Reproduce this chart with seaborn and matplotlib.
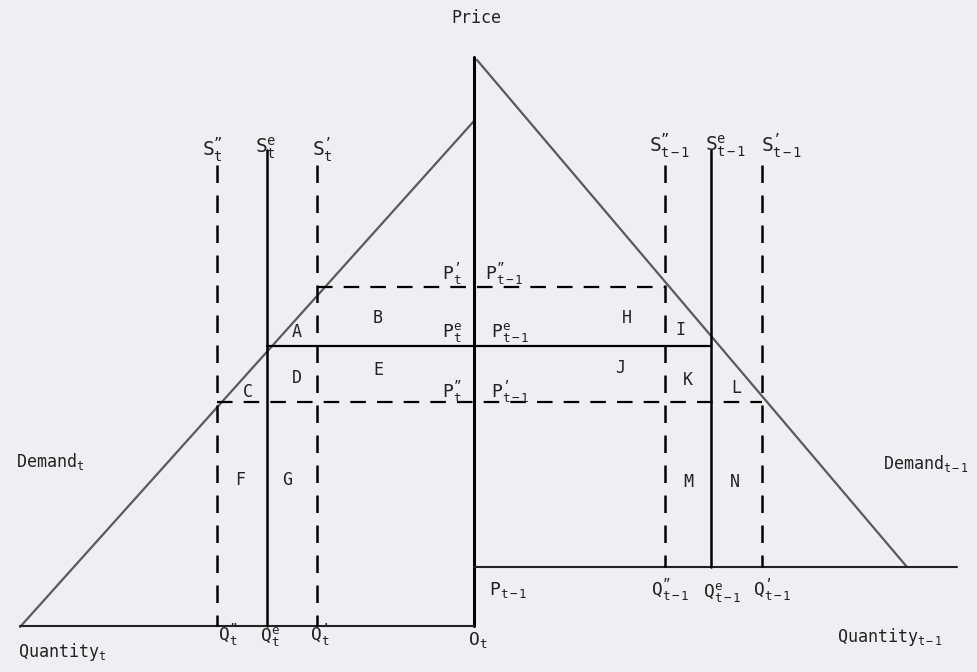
import matplotlib
matplotlib.use("Agg")
import matplotlib.pyplot as plt
import seaborn as sns
import pandas as pd

sns.set_theme(style="white")
plt.rcParams['font.family'] = ['DejaVu Sans Mono', 'DejaVu Sans']
plt.rcParams['mathtext.fontset'] = 'custom'
plt.rcParams['mathtext.rm'] = 'DejaVu Sans Mono'
plt.rcParams['mathtext.it'] = 'DejaVu Sans Mono'
plt.rcParams['mathtext.default'] = 'regular'

# ---- diagram geometry (pixel-like units, y downwards) ----
demand_t_x = [20, 474]
demand_t_y = [627, 121]
demand_t1_x = [477, 907]
demand_t1_y = [60, 567]

axis_center_x = [474, 474]
axis_center_y = [57, 626]
axis_left_x = [20, 474]
axis_left_y = [626, 626]
axis_right_x = [474, 957]
axis_right_y = [567, 567]

# vertical supply lines
supply_x = [217, 267, 317, 665, 711, 762]
supply_top = [165, 150, 165, 165, 150, 165]
supply_bottom = [626, 626, 626, 567, 567, 567]
supply_dashed = [True, False, True, True, False, True]

# horizontal price lines
price_y = [287, 346, 402]
price_x0 = [317, 267, 217]
price_x1 = [665, 711, 762]
price_dashed = [True, False, True]

# area labels
area_labels = ["A", "B", "C", "D", "E", "F", "G", "H", "I", "J", "K", "L", "M", "N"]
area_x = [297, 378, 248, 297, 378, 240, 287, 627, 680, 620, 688, 736, 688, 735]
area_y = [332, 318, 392, 378, 370, 480, 480, 318, 330, 368, 380, 388, 482, 482]

fig = plt.figure(figsize=(9.77, 6.72), dpi=100)
fig.patch.set_facecolor("#eeeff3")
ax = fig.add_axes([0, 0, 1, 1])
ax.set_facecolor("#eeeff3")

dash = (0, (7, 5))

dl = pd.DataFrame({"x": demand_t_x, "y": demand_t_y})
sns.lineplot(data=dl, x="x", y="y", ax=ax, color="#5a5a5a", lw=1.6, estimator=None, sort=False)
dr = pd.DataFrame({"x": demand_t1_x, "y": demand_t1_y})
sns.lineplot(data=dr, x="x", y="y", ax=ax, color="#5a5a5a", lw=1.6, estimator=None, sort=False)

ax.plot(axis_center_x, axis_center_y, color="black", lw=2.2)
ax.plot(axis_left_x, axis_left_y, color="#222222", lw=1.5)
ax.plot(axis_right_x, axis_right_y, color="#222222", lw=1.5)

for x, t, b, d in zip(supply_x, supply_top, supply_bottom, supply_dashed):
    ax.plot([x, x], [t, b], color="black", lw=1.8, linestyle=dash if d else "-")

for y, x0, x1, d in zip(price_y, price_x0, price_x1, price_dashed):
    ax.plot([x0, x1], [y, y], color="black", lw=1.6, linestyle=dash if d else "-")

tc = "#222222"
for lab, x, y in zip(area_labels, area_x, area_y):
    ax.text(x, y, lab, fontsize=12, ha="center", va="center", color=tc)

DP = "\u201d"  # double prime
SP = "\u2019"  # prime

fs = 14
ax.text(476, 18, "Price", fontsize=12, ha="center", va="center", color=tc)
ax.text(212, 150, "$S_t^{" + DP + "}$", fontsize=fs, ha="center", va="center", color=tc)
ax.text(266, 148, r"$S_t^{e}$", fontsize=fs, ha="center", va="center", color=tc)
ax.text(322, 150, "$S_t^{" + SP + "}$", fontsize=fs, ha="center", va="center", color=tc)
ax.text(670, 146, "$S_{t-1}^{" + DP + "}$", fontsize=fs, ha="center", va="center", color=tc)
ax.text(726, 146, r"$S_{t-1}^{e}$", fontsize=fs, ha="center", va="center", color=tc)
ax.text(782, 146, "$S_{t-1}^{" + SP + "}$", fontsize=fs, ha="center", va="center", color=tc)

fp = 13
ax.text(452, 274, "$P_t^{" + SP + "}$", fontsize=fp, ha="center", va="center", color=tc)
ax.text(504, 274, "$P_{t-1}^{" + DP + "}$", fontsize=fp, ha="center", va="center", color=tc)
ax.text(452, 332, r"$P_t^{e}$", fontsize=fp, ha="center", va="center", color=tc)
ax.text(510, 332, r"$P_{t-1}^{e}$", fontsize=fp, ha="center", va="center", color=tc)
ax.text(452, 392, "$P_t^{" + DP + "}$", fontsize=fp, ha="center", va="center", color=tc)
ax.text(510, 392, "$P_{t-1}^{" + SP + "}$", fontsize=fp, ha="center", va="center", color=tc)
ax.text(508, 590, r"$P_{t-1}$", fontsize=fp, ha="center", va="center", color=tc)

ax.text(50, 462, r"Demand$_t$", fontsize=12, ha="center", va="center", color=tc)
ax.text(926, 464, r"Demand$_{t-1}$", fontsize=12, ha="center", va="center", color=tc)
ax.text(62, 652, r"Quantity$_t$", fontsize=12, ha="center", va="center", color=tc)
ax.text(890, 637, r"Quantity$_{t-1}$", fontsize=12, ha="center", va="center", color=tc)

ax.text(228, 635, "$Q_t^{" + DP + "}$", fontsize=fp, ha="center", va="center", color=tc)
ax.text(270, 636, r"$Q_t^{e}$", fontsize=fp, ha="center", va="center", color=tc)
ax.text(320, 635, "$Q_t^{" + SP + "}$", fontsize=fp, ha="center", va="center", color=tc)
ax.text(478, 640, r"$O_t$", fontsize=fp, ha="center", va="center", color=tc)
ax.text(670, 590, "$Q_{t-1}^{" + DP + "}$", fontsize=fp, ha="center", va="center", color=tc)
ax.text(722, 592, r"$Q_{t-1}^{e}$", fontsize=fp, ha="center", va="center", color=tc)
ax.text(772, 590, "$Q_{t-1}^{" + SP + "}$", fontsize=fp, ha="center", va="center", color=tc)

ax.set_xlim(0, 977)
ax.set_ylim(672, 0)
ax.set_xlabel("")
ax.set_ylabel("")
ax.set_xticks([])
ax.set_yticks([])
for s in ax.spines.values():
    s.set_visible(False)

fig.savefig("out.png", dpi=100, facecolor=fig.get_facecolor())
